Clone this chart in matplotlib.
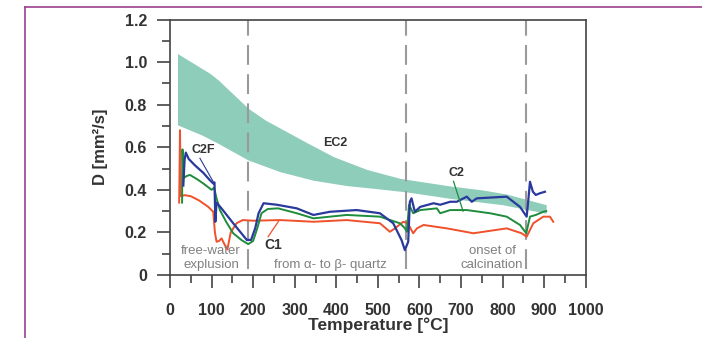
import numpy as np
import matplotlib.pyplot as plt
from matplotlib.lines import Line2D
from matplotlib.ticker import MultipleLocator

plt.rcParams['font.family'] = ['Liberation Sans', 'DejaVu Sans']

# EC2 band (upper / lower edge)
band_top_t = [18, 96, 116, 188, 229, 325, 393, 473, 553, 674, 750, 810, 905]
band_top_d = [1.04, 0.947, 0.916, 0.783, 0.728, 0.626, 0.556, 0.496, 0.454, 0.418, 0.40, 0.38, 0.33]
band_bot_t = [18, 76, 116, 188, 265, 345, 425, 500, 570, 674, 800, 905]
band_bot_d = [0.705, 0.658, 0.618, 0.54, 0.485, 0.445, 0.42, 0.405, 0.39, 0.36, 0.33, 0.29]

# C1 (red)
c1_t = [22, 24, 26, 35, 50, 70, 92, 104, 108, 112, 118, 124, 132, 138, 146, 160, 175, 200, 265,
        345, 425, 505, 529, 541, 561, 572, 585, 594, 610, 666, 730, 810, 846, 858, 874, 898, 914, 922]
c1_d = [0.34, 0.68, 0.37, 0.375, 0.37, 0.35, 0.32, 0.297, 0.2, 0.156, 0.16, 0.172, 0.14, 0.12, 0.2,
        0.243, 0.258, 0.255, 0.258, 0.25, 0.258, 0.243, 0.203, 0.219, 0.25, 0.243, 0.196, 0.219,
        0.235, 0.219, 0.196, 0.219, 0.196, 0.18, 0.243, 0.274, 0.274, 0.25]

# C2 (green)
c2_t = [29, 30, 32, 40, 48, 65, 80, 100, 106, 112, 120, 135, 152, 172, 188, 200, 210, 220, 235,
        260, 305, 345, 425, 505, 553, 565, 570, 575, 580, 585, 602, 642, 650, 674, 714, 770, 810,
        842, 857, 866, 880, 898, 905]
c2_d = [0.34, 0.59, 0.455, 0.465, 0.47, 0.45, 0.43, 0.40, 0.41, 0.36, 0.305, 0.25, 0.196, 0.164,
        0.145, 0.16, 0.22, 0.29, 0.31, 0.313, 0.29, 0.266, 0.282, 0.274, 0.243, 0.22, 0.203, 0.33,
        0.31, 0.29, 0.305, 0.313, 0.29, 0.305, 0.305, 0.29, 0.274, 0.235, 0.196, 0.274, 0.282,
        0.297, 0.30]

# C2F (blue)
c2f_t = [32, 35, 38, 45, 60, 80, 96, 104, 107, 109, 112, 125, 152, 185, 195, 205, 213, 225, 257,
         305, 345, 385, 449, 505, 537, 557, 565, 573, 577, 581, 589, 602, 634, 650, 674, 690, 714,
         726, 738, 810, 842, 858, 862, 866, 873, 880, 890, 902]
c2f_d = [0.42, 0.54, 0.575, 0.545, 0.515, 0.48, 0.445, 0.43, 0.435, 0.25, 0.34, 0.31, 0.243, 0.164,
         0.165, 0.22, 0.29, 0.337, 0.33, 0.313, 0.282, 0.297, 0.305, 0.29, 0.243, 0.164, 0.117,
         0.156, 0.344, 0.36, 0.297, 0.32, 0.337, 0.33, 0.344, 0.344, 0.368, 0.344, 0.36, 0.368,
         0.32, 0.274, 0.352, 0.438, 0.391, 0.376, 0.384, 0.391]

transitions = [188, 568, 857]
x_ticks = np.arange(0, 1001, 100)
y_ticks = [0, 0.2, 0.4, 0.6, 0.8, 1.0, 1.2]
y_labels = ['0', '0.2', '0.4', '0.6', '0.8', '1.0', '1.2']

fig = plt.figure(figsize=(7.02, 3.38), dpi=100)
ax = fig.add_axes([0.2422, 0.1864, 0.5921, 0.7559])

# band
tt = np.linspace(18, 905, 300)
ax.fill_between(tt, np.interp(tt, band_bot_t, band_bot_d), np.interp(tt, band_top_t, band_top_d),
                color='#8ecdba', lw=0, zorder=1)

for x in transitions:
    ax.plot([x, x], [0.03, 1.2], color='#9a9a9a', lw=1.5, ls=(0, (9.5, 4.5)), zorder=2)

ax.plot(c1_t, c1_d, color='#f0502a', lw=1.4, zorder=3)
ax.plot(c2_t, c2_d, color='#1e8c3c', lw=1.4, zorder=4)
ax.plot(c2f_t, c2f_d, color='#2a3a9c', lw=1.6, zorder=5)

# labels with pointer lines
ax.plot([72, 104], [0.548, 0.438], color='#2a3a9c', lw=0.8, zorder=5)
ax.text(80, 0.585, 'C2F', fontsize=9, fontweight='bold', color='#333333', ha='center', va='center')
ax.plot([236, 262], [0.18, 0.255], color='#f0502a', lw=0.9, zorder=5)
ax.text(249, 0.14, 'C1', fontsize=10, fontweight='bold', color='#333333', ha='center', va='center')
ax.text(397, 0.62, 'EC2', fontsize=9, fontweight='bold', color='#333333', ha='center', va='center')
ax.plot([682, 705], [0.44, 0.30], color='#1e8c3c', lw=0.9, zorder=5)
ax.text(690, 0.48, 'C2', fontsize=9, fontweight='bold', color='#333333', ha='center', va='center')

ax.text(99, 0.08, 'free-water\nexplusion', fontsize=9.5, color='#808080', ha='center', va='center',
        linespacing=1.15)
ax.text(385, 0.045, 'from α- to β- quartz', fontsize=9.5, color='#808080',
        ha='center', va='center')
ax.text(775, 0.08, 'onset of\ncalcination', fontsize=9.5, color='#808080', ha='center', va='center',
        linespacing=1.15)

ax.set_xlim(0, 1000)
ax.set_ylim(0, 1.2)
ax.set_xticks(x_ticks)
ax.set_yticks(y_ticks)
ax.set_yticklabels(y_labels)
ax.xaxis.set_minor_locator(MultipleLocator(50))
ax.yaxis.set_minor_locator(MultipleLocator(0.1))
ax.tick_params(which='major', direction='out', length=9.5, width=1.2, color='#444444',
               labelsize=11.5, labelcolor='#333333', top=False, right=False)
ax.tick_params(which='minor', direction='out', length=5.5, width=1.2, color='#444444',
               top=False, right=False)
ax.tick_params(axis='x', pad=11)
ax.tick_params(axis='y', pad=7)
for lab in ax.get_xticklabels() + ax.get_yticklabels():
    lab.set_fontweight('bold')
for s in ax.spines.values():
    s.set_color('#444444')
    s.set_linewidth(1.2)

ax.set_xlabel('Temperature [°C]', fontsize=12.5, fontweight='bold', color='#333333')
ax.set_ylabel('D [mm²/s]', fontsize=12, fontweight='bold', color='#333333')
ax.xaxis.set_label_coords(0.5, -0.196)
ax.xaxis.label.set_va('center')
ax.yaxis.set_label_coords(-0.168, 0.5)
ax.yaxis.label.set_va('center')

# page frame
fig.add_artist(Line2D([0.0356, 0.0356], [0, 0.978], color='#9c3f8e', lw=1.2))
fig.add_artist(Line2D([0.0356, 1.0], [0.978, 0.978], color='#9c3f8e', lw=1.2))

fig.savefig('out.png', dpi=100)
